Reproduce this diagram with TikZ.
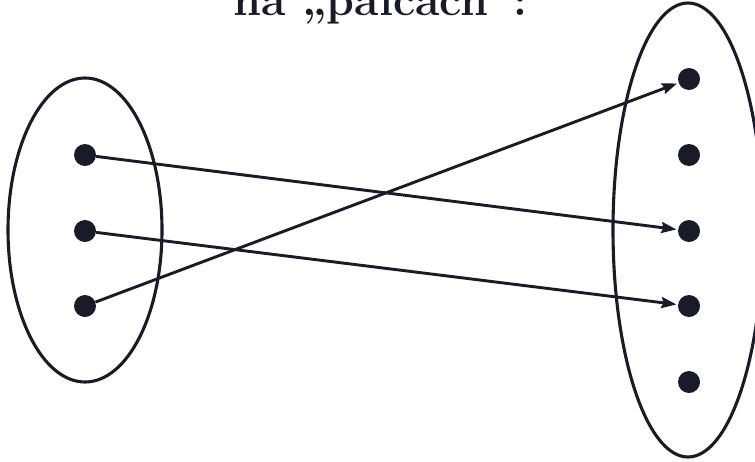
\documentclass[tikz,border=0pt]{standalone}
\usetikzlibrary{arrows.meta}
\definecolor{ink}{HTML}{1A1A28}
\begin{document}
\begin{tikzpicture}[x=1pt,y=-1pt,
  dot/.style={circle,fill=ink,inner sep=0pt,minimum size=22pt},
  link/.style={draw=ink,line width=2.9pt,-{Stealth[length=15pt,width=11pt,inset=2pt]},shorten >=1.5pt},
  set/.style={draw=ink,line width=3.1pt}]
\useasboundingbox (0,0) rectangle (755,461);
\clip (0,0) rectangle (755,461);
\fill[white] (0,0) rectangle (755,461);
\node[anchor=base west,inner sep=0pt,text=ink,font=\fontsize{44.6}{52}\selectfont\bfseries] (title) at (233,15) {na „palcach”:};
\draw[set] (85,230) ellipse [x radius=77, y radius=152];
\draw[set] (688,230) ellipse [x radius=75, y radius=227];
\node[dot] (a1) at (85,155) {};
\node[dot] (a2) at (85,231) {};
\node[dot] (a3) at (85,306) {};
\node[dot] (b1) at (689,79) {};
\node[dot] (b2) at (689,155) {};
\node[dot] (b3) at (689,231) {};
\node[dot] (b4) at (689,306) {};
\node[dot] (b5) at (689,382) {};
\draw[link] (a1) -- (b3);
\draw[link] (a2) -- (b4);
\draw[link] (a3) -- (b1);
\end{tikzpicture}
\end{document}
